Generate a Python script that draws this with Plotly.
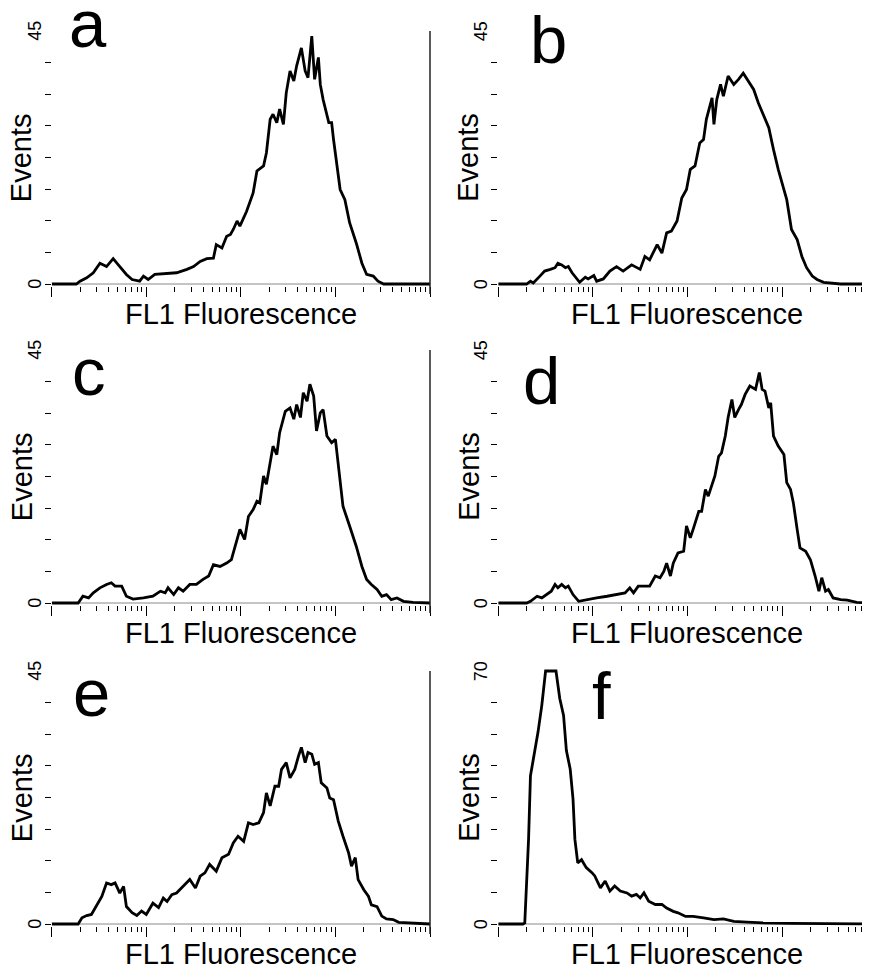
import plotly.graph_objects as go

# ---------------- data (log10 of FL1 fluorescence, events) ----------------
log_fl_a = [0.00, 0.26, 0.30, 0.37, 0.44, 0.51, 0.58, 0.65, 0.72, 0.79, 0.85, 0.93, 0.97, 1.02, 1.09, 1.22,
            1.32, 1.43, 1.50, 1.57, 1.64, 1.71, 1.74, 1.80, 1.85, 1.89, 1.92, 1.96, 1.99, 2.06, 2.13, 2.17,
            2.24, 2.27, 2.31, 2.34, 2.38, 2.41, 2.45, 2.48, 2.52, 2.56, 2.59, 2.64, 2.68, 2.71, 2.75, 2.78,
            2.82, 2.84, 2.87, 2.93, 2.96, 2.98, 3.05, 3.10, 3.15, 3.22, 3.28, 3.33, 3.40, 3.45, 3.51, 4.00]
events_a = [0, 0, 0.5, 1.1, 2.0, 3.7, 3.1, 4.5, 3.1, 1.7, 0.8, 0.5, 1.4, 0.8, 1.7, 1.8,
            2.0, 2.6, 3.1, 4.0, 4.5, 4.6, 7.0, 6.4, 8.5, 8.8, 9.7, 11.2, 10.3, 12.9, 16.2, 20.1,
            21.0, 23.3, 29.3, 30.2, 28.7, 31.1, 28.4, 34.0, 37.9, 36.1, 38.8, 42.0, 37.9, 36.7, 44.1, 36.4,
            40.3, 35.5, 32.8, 28.7, 28.7, 25.7, 16.8, 15.0, 10.9, 7.3, 3.7, 1.7, 1.4, 0.5, 0, 0]

log_fl_b = [0.00, 0.30, 0.34, 0.37, 0.44, 0.49, 0.55, 0.60, 0.63, 0.67, 0.71, 0.74, 0.78, 0.83, 0.86, 0.92,
            0.95, 1.01, 1.04, 1.11, 1.18, 1.25, 1.32, 1.41, 1.50, 1.55, 1.60, 1.68, 1.73, 1.78, 1.83, 1.89,
            1.94, 1.99, 2.03, 2.08, 2.13, 2.17, 2.20, 2.26, 2.28, 2.31, 2.35, 2.38, 2.43, 2.49, 2.54, 2.59,
            2.65, 2.70, 2.75, 2.80, 2.86, 2.91, 2.96, 3.02, 3.05, 3.10, 3.16, 3.21, 3.26, 3.32, 3.37, 3.44,
            3.51, 3.62, 3.93]
events_b = [0, 0, 0.5, 0.2, 1.4, 2.3, 2.6, 2.9, 3.7, 3.4, 2.9, 3.1, 2.0, 0.8, 0.3, 1.2,
            0.9, 1.5, 0.5, 0.9, 2.3, 3.1, 2.3, 3.4, 2.6, 4.9, 4.3, 7.0, 5.5, 9.1, 9.4, 11.2,
            15.3, 16.8, 20.4, 21.0, 25.1, 25.7, 29.3, 33.1, 28.4, 32.8, 35.5, 33.4, 37.0, 35.5, 36.4, 37.5,
            35.8, 34.6, 32.2, 30.2, 27.8, 23.9, 20.4, 16.8, 15.0, 9.7, 7.9, 4.9, 2.9, 1.4, 0.8, 0.3,
            0.2, 0, 0]

log_fl_c = [0.00, 0.28, 0.33, 0.39, 0.44, 0.51, 0.58, 0.63, 0.67, 0.74, 0.79, 0.86, 0.97, 1.07, 1.15, 1.20,
            1.23, 1.29, 1.34, 1.39, 1.46, 1.53, 1.60, 1.66, 1.71, 1.78, 1.85, 1.90, 1.94, 1.99, 2.04, 2.08,
            2.13, 2.17, 2.20, 2.24, 2.27, 2.31, 2.34, 2.38, 2.41, 2.47, 2.52, 2.56, 2.59, 2.63, 2.66, 2.70,
            2.73, 2.77, 2.80, 2.84, 2.87, 2.91, 2.96, 3.00, 3.03, 3.08, 3.15, 3.22, 3.28, 3.33, 3.38, 3.44,
            3.49, 3.54, 3.59, 3.65, 3.72, 3.82, 4.00]
events_c = [0, 0, 1.2, 0.9, 1.8, 2.7, 3.3, 3.6, 3.0, 3.0, 1.2, 0.7, 0.9, 1.2, 2.1, 1.8,
            2.7, 1.5, 2.7, 2.1, 3.3, 3.3, 4.2, 4.8, 6.8, 6.5, 7.1, 7.7, 10.1, 13.1, 11.3, 15.4,
            16.6, 18.1, 17.8, 22.6, 21.1, 24.9, 27.9, 26.4, 30.3, 34.1, 34.7, 32.7, 35.3, 33.0, 37.4, 35.9,
            38.9, 36.8, 30.6, 33.8, 34.4, 29.7, 28.5, 29.1, 24.3, 17.2, 13.7, 10.1, 6.5, 4.2, 3.3, 2.4,
            1.2, 1.5, 0.6, 0.9, 0.3, 0.1, 0]

log_fl_d = [0.00, 0.30, 0.34, 0.41, 0.46, 0.51, 0.56, 0.60, 0.63, 0.67, 0.71, 0.74, 0.79, 0.85, 0.93, 1.04,
            1.15, 1.25, 1.34, 1.39, 1.43, 1.48, 1.55, 1.60, 1.66, 1.71, 1.75, 1.78, 1.82, 1.85, 1.90, 1.96,
            1.99, 2.03, 2.06, 2.12, 2.15, 2.19, 2.22, 2.26, 2.29, 2.33, 2.36, 2.40, 2.43, 2.47, 2.50, 2.54,
            2.57, 2.61, 2.66, 2.72, 2.76, 2.79, 2.82, 2.86, 2.88, 2.91, 2.96, 3.02, 3.05, 3.09, 3.12, 3.16,
            3.19, 3.25, 3.30, 3.35, 3.39, 3.42, 3.46, 3.49, 3.54, 3.62, 3.69, 3.79, 3.93]
events_d = [0, 0, 0.3, 1.2, 0.9, 1.5, 2.1, 3.3, 2.7, 3.3, 2.7, 3.0, 1.5, 0.3, 0.6, 0.9,
            1.2, 1.5, 1.8, 2.7, 1.8, 3.0, 3.0, 3.0, 4.8, 4.5, 5.6, 7.1, 4.8, 7.1, 8.9, 9.2,
            13.7, 11.6, 13.1, 16.3, 16.3, 20.2, 19.0, 21.1, 22.6, 26.1, 26.7, 29.7, 33.0, 36.2, 33.0, 34.4,
            35.3, 37.1, 38.6, 38.0, 41.0, 38.0, 37.7, 34.7, 35.6, 29.7, 27.9, 26.4, 21.4, 20.2, 17.8, 13.1,
            9.8, 9.2, 7.7, 4.8, 2.1, 4.5, 2.1, 2.4, 0.9, 0.6, 0.5, 0.1, 0]

log_fl_e = [0.00, 0.28, 0.32, 0.37, 0.42, 0.48, 0.53, 0.58, 0.63, 0.67, 0.72, 0.76, 0.79, 0.85, 0.90, 0.95,
            1.00, 1.07, 1.13, 1.18, 1.22, 1.27, 1.32, 1.39, 1.46, 1.52, 1.57, 1.62, 1.67, 1.74, 1.80, 1.87,
            1.92, 1.97, 2.03, 2.08, 2.13, 2.19, 2.24, 2.27, 2.31, 2.36, 2.40, 2.43, 2.48, 2.52, 2.57, 2.61,
            2.64, 2.68, 2.71, 2.75, 2.78, 2.82, 2.85, 2.91, 2.94, 2.98, 3.03, 3.08, 3.14, 3.17, 3.21, 3.24,
            3.30, 3.35, 3.38, 3.44, 3.49, 3.54, 3.61, 3.67, 3.79, 4.00]
events_e = [0, 0, 1.1, 1.5, 1.7, 3.4, 4.9, 7.3, 7.0, 7.3, 5.5, 6.7, 3.1, 2.0, 1.5, 2.3,
            1.7, 3.7, 2.9, 4.6, 4.0, 5.2, 5.5, 6.7, 7.9, 6.4, 8.5, 9.1, 10.6, 9.4, 11.8, 12.4,
            14.4, 15.6, 14.7, 18.0, 17.7, 18.0, 19.8, 23.3, 21.0, 24.5, 24.5, 27.5, 28.7, 26.0, 27.5, 29.9,
            31.4, 28.7, 30.5, 30.2, 28.4, 28.7, 25.1, 24.2, 22.4, 22.1, 18.3, 15.6, 12.6, 10.3, 11.8, 7.9,
            6.1, 4.9, 3.4, 3.1, 1.4, 0.9, 0.8, 0.3, 0.2, 0]

log_fl_f = [0.00, 0.26, 0.28, 0.32, 0.34, 0.39, 0.42, 0.46, 0.50, 0.61, 0.65, 0.69, 0.72, 0.76, 0.79, 0.81,
            0.84, 0.88, 0.93, 0.99, 1.02, 1.08, 1.13, 1.18, 1.23, 1.29, 1.36, 1.41, 1.46, 1.50, 1.54, 1.59,
            1.66, 1.73, 1.78, 1.85, 1.90, 1.98, 2.06, 2.17, 2.28, 2.38, 2.49, 2.63, 2.80, 3.09, 3.44, 3.93]
events_f = [0, 0, 0.3, 23.4, 41.0, 48.5, 53.1, 60.5, 70, 70, 62.4, 57.7, 48.0, 42.9, 34.6, 23.4,
            16.9, 17.8, 15.6, 14.2, 13.3, 10.0, 11.9, 9.1, 10.5, 9.1, 8.6, 7.7, 8.2, 7.2, 8.6, 6.3,
            5.4, 5.4, 4.4, 3.5, 3.1, 2.1, 2.1, 1.7, 1.2, 1.4, 0.7, 0.5, 0.3, 0.2, 0.1, 0]

panel_labels = ["a", "b", "c", "d", "e", "f"]
y_max = [45, 45, 45, 45, 45, 70]
x_title = "FL1 Fluorescence"
y_title = "Events"

series = [(log_fl_a, events_a), (log_fl_b, events_b), (log_fl_c, events_c),
          (log_fl_d, events_d), (log_fl_e, events_e), (log_fl_f, events_f)]

# ---------------- layout geometry (page pixels) ----------------
W, H = 870, 965
OFF = 8  # default body margin of the html page
FONT = "Liberation Sans, Arial, sans-serif"


def fx(p):
    return (p - OFF) / W


def fy(p):
    return 1 - (p - OFF) / H


decade_px = (430 - 51.7) / 4
col_x0 = [51.7, 498.3]
col_x1 = [430, 870]
row_zero = [284, 603, 924]
span = 253
pad = 2.0
letter_pos = [(88, 24), (548, 39), (89, 372), (541, 380), (91, 692), (601, 695)]

fig = go.Figure()
annotations = []
shapes = []

minor_vals = [k * 10 ** j for j in range(4) for k in range(2, 10)]

for i, (lg, ev) in enumerate(series):
    r, c = i // 2, i % 2
    n = min(len(lg), len(ev))
    xs = [10 ** v for v in lg[:n]]
    ys = ev[:n]
    ax = "" if i == 0 else str(i + 1)
    fig.add_trace(go.Scatter(x=xs, y=ys, mode="lines", line=dict(color="black", width=2.8),
                             xaxis="x" + ax, yaxis="y" + ax, showlegend=False, hoverinfo="skip"))

    x0p, x1p = col_x0[c], col_x1[c]
    xr = (x1p - x0p) / decade_px
    zero = row_zero[r]
    top = zero - span
    ym = y_max[i]
    unit = span / ym
    ypad = pad / unit

    fig.update_layout(**{
        "xaxis" + ax: dict(
            type="log", range=[0, xr], domain=[fx(x0p), min(1.0, fx(x1p))],
            anchor="y" + ax, showgrid=False, zeroline=False, showline=False,
            ticks="outside", ticklen=10, tickwidth=1.3, tickcolor="black",
            tickmode="array", tickvals=[1, 10, 100, 1000, 10000], showticklabels=False,
            minor=dict(tickmode="array", tickvals=minor_vals, ticks="outside", ticklen=5,
                       tickwidth=1.3, tickcolor="black", showgrid=False),
            fixedrange=True),
        "yaxis" + ax: dict(
            range=[-ypad, ym + ypad], domain=[fy(zero + pad), fy(top - pad)],
            anchor="x" + ax, showgrid=False, showline=False,
            zeroline=True, zerolinecolor="#c4c4c4", zerolinewidth=1.5,
            ticks="outside", ticklen=6, tickwidth=1.3, tickcolor="black",
            tickmode="array", tickvals=[k * ym / 8 for k in range(8)], showticklabels=False,
            fixedrange=True),
    })

    # tick labels 0 and max (rotated)
    for val, ypx in ((0, zero), (ym, top)):
        annotations.append(dict(text=str(val), x=fx(x0p - 17), y=fy(ypx), xref="paper", yref="paper",
                                showarrow=False, textangle=-90, xanchor="center", yanchor="middle",
                                font=dict(family=FONT, size=18, color="black")))
    # axis titles
    annotations.append(dict(text=y_title, x=fx(x0p - 30), y=fy(zero - span / 2), xref="paper", yref="paper",
                            showarrow=False, textangle=-90, xanchor="center", yanchor="middle",
                            font=dict(family=FONT, size=29, color="black")))
    annotations.append(dict(text=x_title, x=fx(x0p + 2 * decade_px), y=fy(zero + 30), xref="paper",
                            yref="paper", showarrow=False, xanchor="center", yanchor="middle",
                            font=dict(family=FONT, size=29, color="black")))
    # panel letter
    lx, ly = letter_pos[i]
    annotations.append(dict(text=panel_labels[i], x=fx(lx), y=fy(ly), xref="paper", yref="paper",
                            showarrow=False, xanchor="center", yanchor="middle",
                            font=dict(family=FONT, size=67, color="black")))
    # right frame line for left-column panels
    if c == 0:
        shapes.append(dict(type="line", xref="paper", yref="paper", x0=fx(x1p), x1=fx(x1p),
                           y0=fy(top), y1=fy(zero + 10), line=dict(color="#222222", width=1.5)))

fig.update_layout(width=W, height=H, margin=dict(l=0, r=0, t=0, b=0),
                  paper_bgcolor="white", plot_bgcolor="white",
                  annotations=annotations, shapes=shapes, showlegend=False)

fig.write_html("out.html")
